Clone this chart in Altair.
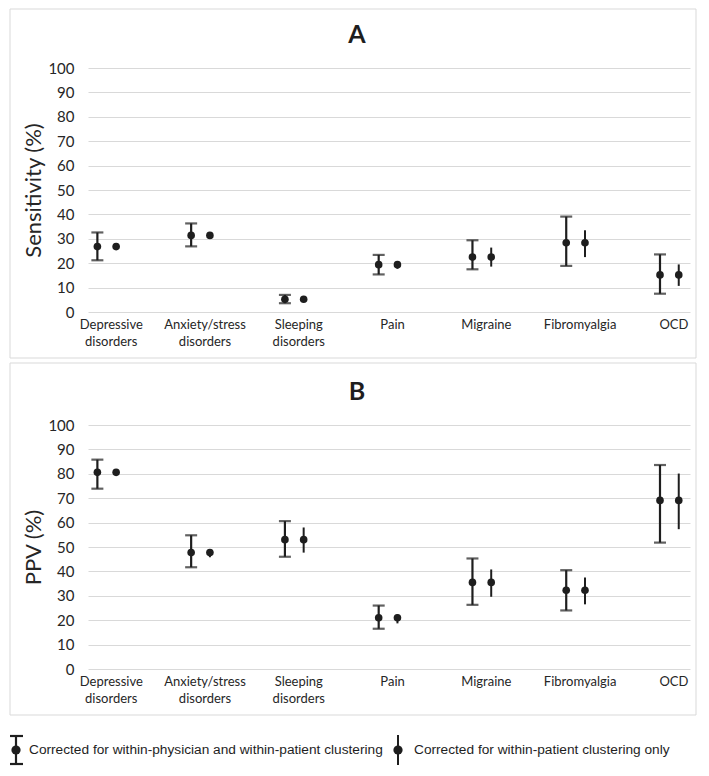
import json
import altair as alt
import pandas as pd

categories = ["Depressive disorders", "Anxiety/stress disorders", "Sleeping disorders",
              "Pain", "Migraine", "Fibromyalgia", "OCD"]

# Panel A: sensitivity (%)
sens_est = [26.8, 31.4, 5.2, 19.4, 22.5, 28.4, 15.2]
sens_lo_phys = [21.2, 26.9, 3.6, 15.4, 17.5, 18.9, 7.5]
sens_hi_phys = [32.6, 36.3, 7.0, 23.4, 29.4, 39.1, 23.6]
sens_lo_pat = [26.0, 30.6, 4.6, 17.7, 18.6, 22.5, 10.7]
sens_hi_pat = [27.6, 32.2, 5.8, 20.9, 26.4, 33.5, 19.5]

# Panel B: PPV (%)
ppv_est = [80.6, 47.7, 53.0, 21.0, 35.5, 32.3, 69.1]
ppv_lo_phys = [73.9, 41.7, 46.0, 16.5, 26.3, 24.0, 51.8]
ppv_hi_phys = [85.8, 54.8, 60.6, 26.0, 45.3, 40.5, 83.6]
ppv_lo_pat = [79.6, 45.8, 47.7, 18.7, 29.6, 26.5, 57.3]
ppv_hi_pat = [81.6, 49.0, 58.0, 22.4, 40.8, 37.5, 80.1]

legend_labels = ["Corrected for within-physician and within-patient clustering",
                 "Corrected for within-patient clustering only"]
panel_titles = ["A", "B"]
y_titles = ["Sensitivity (%)", "PPV (%)"]
y_ticks = list(range(0, 101, 10))

rows = []
for metric, est, lo1, hi1, lo2, hi2 in [
    ("sens", sens_est, sens_lo_phys, sens_hi_phys, sens_lo_pat, sens_hi_pat),
    ("ppv", ppv_est, ppv_lo_phys, ppv_hi_phys, ppv_lo_pat, ppv_hi_pat),
]:
    for i, c in enumerate(categories):
        rows.append(dict(metric=metric, idx=i, series=1, est=est[i], lo=lo1[i], hi=hi1[i]))
        rows.append(dict(metric=metric, idx=i, series=2, est=est[i], lo=lo2[i], hi=hi2[i]))
df = pd.DataFrame(rows)
one = pd.DataFrame({"k": [0]})

W, H = 602, 244
INK = "#1e1e1e"
TXT = "#262626"
FONT = "Lato"
LEG_FONT = "Liberation Sans"
label_expr = json.dumps([c.split(" ") for c in categories]) + "[datum.value]"


def panel(metric, title, ytitle, with_legend=False):
    base = alt.Chart(df).transform_filter(alt.datum.metric == metric).transform_calculate(
        xpos="datum.idx + (datum.series == 1 ? -0.1 : 0.1)")
    x = alt.X("xpos:Q", scale=alt.Scale(domain=[-0.2, 6.22], nice=False, zero=False),
              axis=alt.Axis(values=list(range(len(categories))), labelExpr=label_expr,
                            grid=False, domain=False, ticks=False, title=None,
                            labelFont=FONT, labelFontSize=13, labelColor=TXT,
                            labelPadding=6, labelLineHeight=17, labelOffset=4,
                            labelOverlap=False))
    y_axis = alt.Axis(values=y_ticks, gridColor="#d9d9d9", domain=False, ticks=False,
                      labelFont=FONT, labelFontSize=15, labelColor=TXT, labelPadding=14,
                      labelOverlap=False,
                      title=ytitle, titleFont=FONT, titleFontSize=22,
                      titleFontWeight="normal", titleColor=TXT,
                      titleX=-43, titleY=H / 2)
    y_scale = alt.Scale(domain=[0, 100], nice=False)

    def Y(field):
        return alt.Y(field, scale=y_scale, axis=y_axis)

    s1 = base.transform_filter(alt.datum.series == 1)
    s2 = base.transform_filter(alt.datum.series == 2)
    rule1 = s1.mark_rule(color=INK, strokeWidth=2.2).encode(x=x, y=Y("lo:Q"), y2="hi:Q")
    cap_lo = s1.mark_tick(color=INK, orient="horizontal", size=12, thickness=2.2).encode(x=x, y=Y("lo:Q"))
    cap_hi = s1.mark_tick(color=INK, orient="horizontal", size=12, thickness=2.2).encode(x=x, y=Y("hi:Q"))
    rule2 = s2.mark_rule(color=INK, strokeWidth=2).encode(x=x, y=Y("lo:Q"), y2="hi:Q")
    pts = base.mark_circle(color=INK, size=58, opacity=1).encode(x=x, y=Y("est:Q"))

    frame_bottom = H + 46
    frame_top = -59 if metric == "sens" else -62
    frame = alt.Chart(one).mark_rect(fillOpacity=0, stroke="#d9d9d9", strokeWidth=1).encode(
        x=alt.value(-78), x2=alt.value(W + 6), y=alt.value(frame_top), y2=alt.value(frame_bottom))
    ttl = alt.Chart(one).mark_text(fontSize=25, fontWeight="bold", font=FONT, color=INK,
                                   align="center", baseline="alphabetic").encode(
        x=alt.value(269), y=alt.value(-25), text=alt.value(title))
    layers = [rule1, cap_lo, cap_hi, rule2, pts, frame, ttl]

    if with_legend:
        ly0, ly1, lyc = 311, 339, 325
        lx1, lx2 = -72, 310
        layers += [
            alt.Chart(one).mark_rule(color=INK, strokeWidth=2.2).encode(
                x=alt.value(lx1), y=alt.value(ly0), y2=alt.value(ly1)),
            alt.Chart(one).mark_rule(color=INK, strokeWidth=2.2).encode(
                x=alt.value(lx1 - 6), x2=alt.value(lx1 + 7), y=alt.value(ly0)),
            alt.Chart(one).mark_rule(color=INK, strokeWidth=2.2).encode(
                x=alt.value(lx1 - 6), x2=alt.value(lx1 + 7), y=alt.value(ly1)),
            alt.Chart(one).mark_circle(color=INK, size=85, opacity=1).encode(
                x=alt.value(lx1), y=alt.value(lyc)),
            alt.Chart(one).mark_text(font=LEG_FONT, fontSize=13.7, color=INK,
                                     align="left", baseline="middle").encode(
                x=alt.value(lx1 + 13), y=alt.value(lyc), text=alt.value(legend_labels[0])),
            alt.Chart(one).mark_rule(color=INK, strokeWidth=2).encode(
                x=alt.value(lx2), y=alt.value(ly0 - 1), y2=alt.value(ly1 + 1)),
            alt.Chart(one).mark_circle(color=INK, size=85, opacity=1).encode(
                x=alt.value(lx2), y=alt.value(lyc)),
            alt.Chart(one).mark_text(font=LEG_FONT, fontSize=13.7, color=INK,
                                     align="left", baseline="middle").encode(
                x=alt.value(lx2 + 16), y=alt.value(lyc), text=alt.value(legend_labels[1])),
        ]
    return alt.layer(*layers).properties(width=W, height=H)


chart = alt.vconcat(
    panel("sens", panel_titles[0], y_titles[0]),
    panel("ppv", panel_titles[1], y_titles[1], with_legend=True),
    spacing=3,
).properties(padding={"left": 0, "top": 0, "right": 0, "bottom": 0},
             background="white").configure_view(stroke=None)

chart.save("out.html", embed_options={"renderer": "svg", "actions": False})
